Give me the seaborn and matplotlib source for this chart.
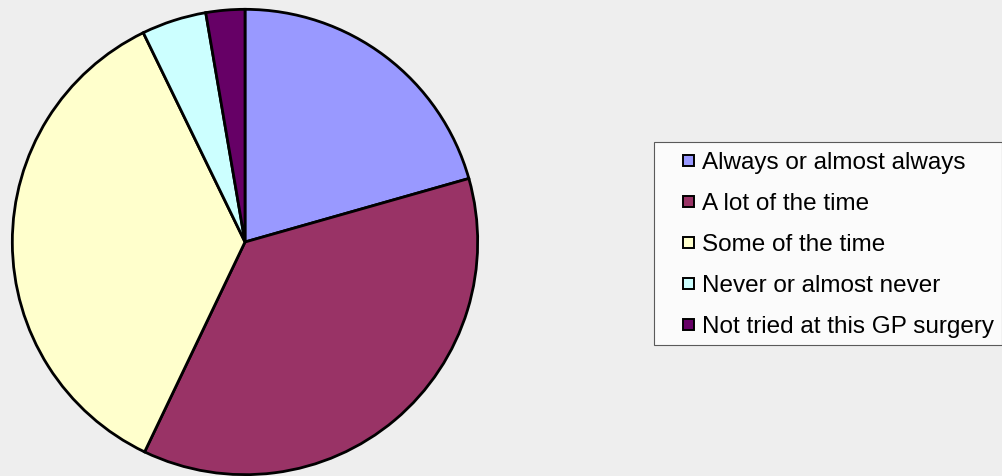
import matplotlib
matplotlib.use("Agg")
import matplotlib.pyplot as plt
from matplotlib.patches import Patch, Rectangle
from matplotlib.legend_handler import HandlerPatch
import seaborn as sns

# Survey responses (percent)
labels = ['Always or almost always', 'A lot of the time', 'Some of the time',
          'Never or almost never', 'Not tried at this GP surgery']
values = [20.6, 36.5, 35.7, 4.5, 2.7]
colors = ['#9999FF', '#993366', '#FFFFCC', '#CCFFFF', '#660066']

sns.set_style("white")
plt.rcParams['font.family'] = ['Liberation Sans', 'DejaVu Sans']


class SmallSquare(HandlerPatch):
    # draw a small square at the right end of the handle box
    def create_artists(self, legend, orig_handle, xdescent, ydescent,
                       width, height, fontsize, trans):
        s = 11 * 72 / 100
        r = Rectangle((width - xdescent - s, -ydescent + (height - s) / 2 - 1), s, s,
                      facecolor=orig_handle.get_facecolor(),
                      edgecolor='black', linewidth=1.4, transform=trans)
        return [r]


fig = plt.figure(figsize=(10.03, 4.77), dpi=100, facecolor='#EEEEEE')
ax = fig.add_axes([10 / 1003, -1 / 477, 470 / 1003, 470 / 477])
ax.set_facecolor('#EEEEEE')

ax.pie(values, colors=colors, startangle=90, counterclock=False, radius=1,
       wedgeprops=dict(edgecolor='black', linewidth=2))
ax.set_xlim(-1.01, 1.01)
ax.set_ylim(-1.01, 1.01)
ax.set_aspect('equal')
ax.axis('off')

handles = [Patch(facecolor=c, edgecolor='black') for c in colors]
leg = fig.legend(handles, labels, loc='upper left',
                 bbox_to_anchor=(654 / 1003, (477 - 143) / 477),
                 handler_map={Patch: SmallSquare()},
                 fontsize=17.5, labelcolor='black', frameon=True, fancybox=False,
                 shadow=False, handlelength=1.3, handleheight=0.6,
                 handletextpad=0.3, labelspacing=0.78, borderpad=0.36,
                 borderaxespad=0)
leg.get_frame().set_edgecolor('#333333')
leg.get_frame().set_linewidth(0.8)
leg.get_frame().set_facecolor('white')

fig.savefig('out.png', dpi=100, facecolor=fig.get_facecolor())
